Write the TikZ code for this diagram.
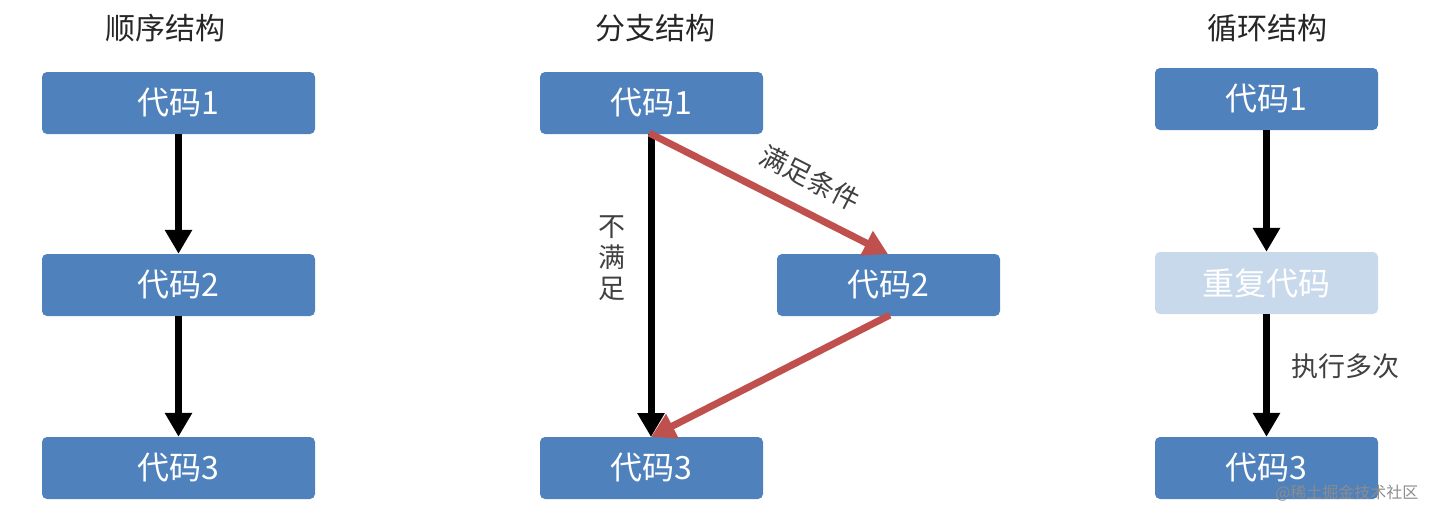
\documentclass[tikz,border=0pt]{standalone}
\usepackage{fontspec}
\setmainfont{Noto Sans CJK SC}
\usetikzlibrary{arrows.meta}
\definecolor{boxblue}{HTML}{4F81BD}
\definecolor{boxlight}{HTML}{C9D9EC}
\definecolor{redline}{HTML}{C0504D}
\definecolor{lbl}{HTML}{404040}
\begin{document}
\begin{tikzpicture}[x=1pt,y=-1pt,
  box/.style={fill=boxblue,rounded corners=5pt,minimum width=223pt,minimum height=62pt,text=white,font=\fontsize{32}{36}\selectfont,inner sep=0pt},
  wbox/.style={box,minimum width=273pt},
  title/.style={font=\fontsize{30}{34}\selectfont,text=black!85},
  lab/.style={font=\fontsize{27}{31}\selectfont,text=lbl},
  blk/.style={line width=7pt,-{Triangle[length=24pt,width=26pt]},black},
  red/.style={line width=7pt,-{Triangle[length=24pt,width=26pt]},redline,shorten <=-2pt}]
\useasboundingbox (0,0) rectangle (1435,520);
\node[title] (t1) at (165,28) {顺序结构};
\node[title] (t2) at (655,28) {分支结构};
\node[title] (t3) at (1267,28) {循环结构};
\node[wbox] (a1) at (178.5,103) {代码1};
\node[wbox] (a2) at (178.5,285) {代码2};
\node[wbox] (a3) at (178.5,468) {代码3};
\draw[blk] (a1) -- (a2);
\draw[blk] (a2) -- (a3);
\node[box] (b1) at (651.5,103) {代码1};
\node[box] (b2) at (888.5,285) {代码2};
\node[box] (b3) at (651.5,468) {代码3};
\coordinate (b1s) at (651,134);
\coordinate (b3n) at (651,437);
\coordinate (b2n) at (888,254);
\coordinate (b2s) at (888,316);
\draw[blk] (b1s) -- (b3n);
\draw[red] (b1s) -- (b2n);
\draw[red] (b2s) -- (b3n);
\node[lab,rotate=-27] (l1) at (810,178) {满足条件};
\node[lab,align=center,font=\fontsize{27}{31}\selectfont] (l2) at (612,258) {不\\满\\足};
\node[box] (c1) at (1266.5,99) {代码1};
\node[box,fill=boxlight] (c2) at (1266.5,283) {重复代码};
\node[box] (c3) at (1266.5,468) {代码3};
\draw[blk] (c1) -- (c2);
\draw[blk] (c2) -- (c3);
\node[lab] (l3) at (1345,366) {执行多次};
\node[font=\fontsize{16}{18}\selectfont,text=black!45,anchor=east] (wm) at (1422,493) {@稀土掘金技术社区};
\end{tikzpicture}
\end{document}
